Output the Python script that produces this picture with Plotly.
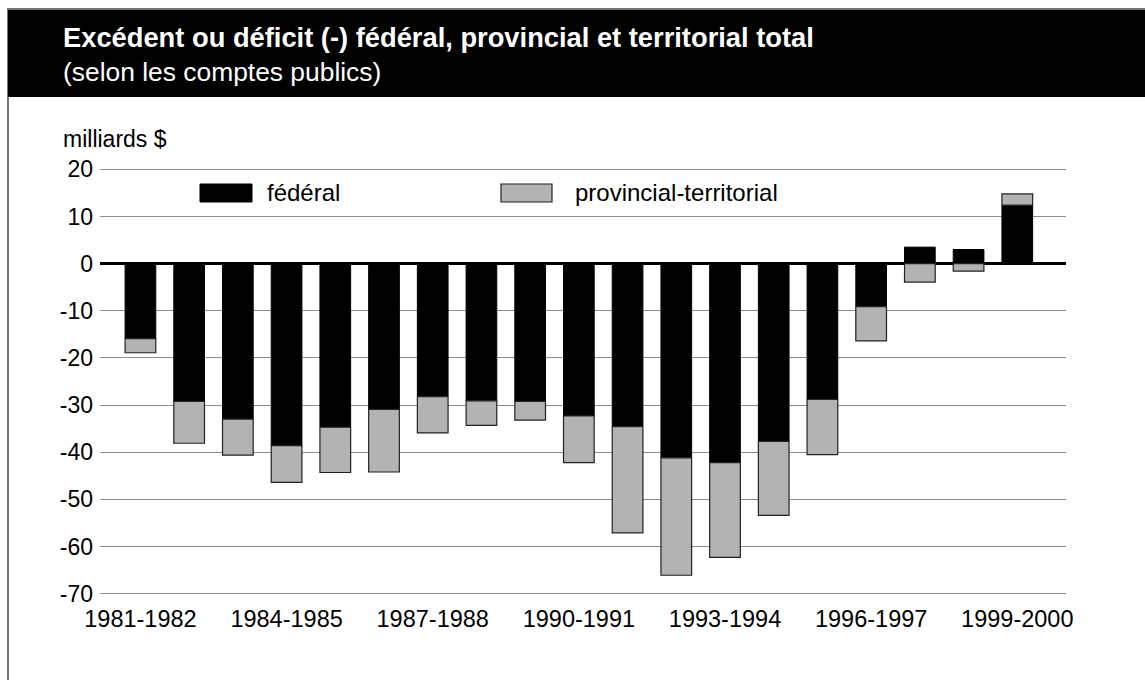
import plotly.graph_objects as go

categories = ["1981-1982", "1982-1983", "1983-1984", "1984-1985", "1985-1986",
              "1986-1987", "1987-1988", "1988-1989", "1989-1990", "1990-1991",
              "1991-1992", "1992-1993", "1993-1994", "1994-1995", "1995-1996",
              "1996-1997", "1997-1998", "1998-1999", "1999-2000"]
federal = [-15.9, -29.2, -33.0, -38.6, -34.7, -30.9, -28.2, -29.1, -29.2, -32.3,
           -34.6, -41.2, -42.2, -37.7, -28.8, -9.1, 3.5, 3.0, 12.4]
provincial = [-3.0, -8.9, -7.6, -7.8, -9.6, -13.3, -7.7, -5.2, -4.0, -9.9,
              -22.5, -24.9, -20.1, -15.7, -11.7, -7.3, -3.9, -1.6, 2.4]
tick_labels = categories[::3]
y_ticks = [20, 10, 0, -10, -20, -30, -40, -50, -60, -70]
y_tick_text = [str(v) for v in y_ticks]

W, H = 1145, 680
L, R, T, B = 100, W - 1066, 167, 84
PW, PH = W - L - R, H - T - B


def px(x):
    return (x - L) / PW


def py(y):
    return (H - B - y) / PH


FONT = "Liberation Sans, Arial, sans-serif"

fig = go.Figure()
fig.add_trace(go.Bar(x=categories, y=federal, name="fédéral",
                     marker=dict(color="#000000", line=dict(color="#000000", width=1)),
                     width=0.63))
fig.add_trace(go.Bar(x=categories, y=provincial, name="provincial-territorial",
                     marker=dict(color="#b3b3b3", line=dict(color="#222222", width=1.2)),
                     width=0.63))

shapes = [
    dict(type="rect", xref="paper", yref="paper", x0=px(8), x1=px(1160), y0=py(9), y1=py(700),
         line=dict(color="#777777", width=2), fillcolor="rgba(0,0,0,0)", layer="below"),
    dict(type="rect", xref="paper", yref="paper", x0=px(8), x1=px(1160), y0=py(10), y1=py(97),
         line=dict(width=0), fillcolor="#000000", layer="below"),
    dict(type="rect", xref="paper", yref="paper", x0=px(200), x1=px(252), y0=py(184), y1=py(202),
         line=dict(color="#000000", width=1), fillcolor="#000000"),
    dict(type="rect", xref="paper", yref="paper", x0=px(501), x1=px(552), y0=py(184), y1=py(202),
         line=dict(color="#222222", width=1.2), fillcolor="#b3b3b3"),
]

annotations = [
    dict(text="<b>Excédent ou déficit (-) fédéral, provincial et territorial total</b>",
         xref="paper", yref="paper", x=px(61), y=py(37), xanchor="left", yanchor="middle",
         showarrow=False, font=dict(family=FONT, size=27.3, color="white")),
    dict(text="(selon les comptes publics)",
         xref="paper", yref="paper", x=px(61), y=py(72), xanchor="left", yanchor="middle",
         showarrow=False, font=dict(family=FONT, size=26.4, color="white")),
    dict(text="milliards $", xref="paper", yref="paper", x=px(61), y=py(139),
         xanchor="left", yanchor="middle", showarrow=False,
         font=dict(family=FONT, size=23, color="black")),
    dict(text="fédéral", xref="paper", yref="paper", x=px(265), y=py(193),
         xanchor="left", yanchor="middle", showarrow=False,
         font=dict(family=FONT, size=24, color="black")),
    dict(text="provincial-territorial", xref="paper", yref="paper", x=px(573), y=py(193),
         xanchor="left", yanchor="middle", showarrow=False,
         font=dict(family=FONT, size=24, color="black")),
]

fig.update_layout(
    width=W, height=H,
    margin=dict(l=L, r=R, t=T, b=B, pad=0),
    paper_bgcolor="white", plot_bgcolor="white",
    barmode="relative",
    showlegend=False,
    shapes=shapes,
    annotations=annotations,
    font=dict(family=FONT, size=23, color="black"),
    xaxis=dict(type="category", range=[-0.83, 19.0], tickmode="array",
               tickvals=tick_labels, ticktext=tick_labels, showgrid=False,
               showline=False, ticks="", ticklabelstandoff=6,
               tickfont=dict(family=FONT, size=23.5, color="black")),
    yaxis=dict(range=[-70.5, 20.5], tickmode="array", tickvals=y_ticks,
               ticktext=y_tick_text,
               showgrid=True, gridcolor="#8c8c8c", gridwidth=1,
               zeroline=True, zerolinecolor="#000000", zerolinewidth=3,
               showline=False, ticks="", ticklabelstandoff=6,
               tickfont=dict(family=FONT, size=23, color="black")),
)

fig.write_html("out.html", config={"displayModeBar": False},
               post_script="document.body.style.margin='0';")
